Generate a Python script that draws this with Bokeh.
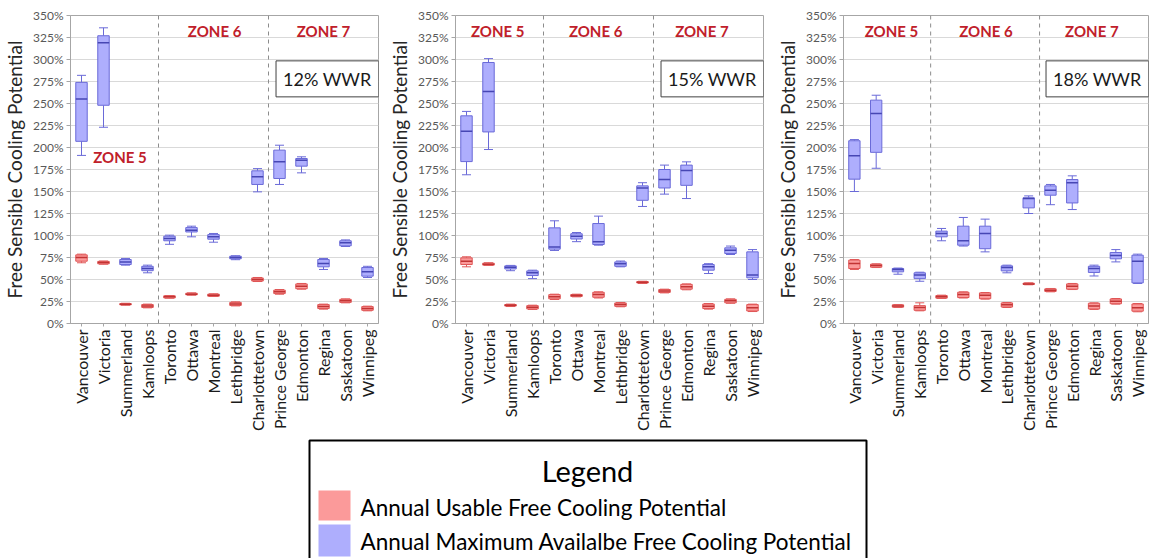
import math
from bokeh.plotting import figure
from bokeh.layouts import column, row
from bokeh.models import (FactorRange, Range1d, FixedTicker, Span, Label,
                          Whisker, TeeHead, ColumnDataSource)
from bokeh.core.properties import value
from bokeh.embed import file_html
from bokeh.resources import INLINE

# ---------------------------------------------------------------- data
cities = ["Vancouver", "Victoria", "Summerland", "Kamloops",
          "Toronto", "Ottawa", "Montreal", "Lethbridge", "Charlottetown",
          "Prince George", "Edmonton", "Regina", "Saskatoon", "Winnipeg"]
zone_labels = ["ZONE 5", "ZONE 6", "ZONE 7"]
zone_breaks = [4, 9]          # number of cities before each dashed divider
y_ticks = list(range(0, 351, 25))
wwr_labels = ["12% WWR", "15% WWR", "18% WWR"]

# Annual maximum available free cooling potential (%), 12 % WWR
max12_low = [191, 223, 66.3, 57.6, 90.0, 98.5, 92.4, 72.5, 149.6, 158.0, 171.2, 61.4, 87.5, 52.3]
max12_q1 = [207, 248, 67.0, 60.0, 94.0, 104.0, 95.8, 73.5, 158.0, 164.8, 178.8, 64.4, 88.3, 53.8]
max12_med = [255, 319, 70.0, 62.5, 96.6, 106.0, 98.5, 75.0, 166.7, 183.7, 185.6, 68.2, 91.7, 58.7]
max12_q3 = [274, 327, 72.7, 65.0, 99.2, 109.0, 101.0, 76.5, 173.5, 197.0, 187.5, 72.7, 94.0, 63.6]
max12_high = [282, 336, 73.9, 66.3, 100.4, 110.6, 102.3, 77.0, 176.0, 202.6, 189.4, 73.9, 95.0, 65.0]

# Annual usable free cooling potential (%), 12 % WWR
use12_low = [69.0, 67.4, 20.8, 17.8, 28.8, 32.2, 30.7, 20.0, 47.7, 33.3, 39.0, 16.3, 23.5, 14.4]
use12_q1 = [70.8, 67.8, 21.2, 18.2, 29.0, 32.6, 31.0, 20.5, 48.2, 34.0, 39.5, 17.0, 24.0, 15.0]
use12_med = [75.0, 69.3, 22.0, 20.0, 30.3, 33.3, 32.2, 22.3, 50.0, 36.0, 42.4, 19.3, 25.8, 17.0]
use12_q3 = [78.0, 70.6, 22.6, 21.6, 31.5, 34.4, 33.4, 24.0, 51.8, 38.0, 45.0, 21.5, 27.5, 19.2]
use12_high = [78.8, 71.0, 23.0, 22.0, 31.8, 34.8, 33.7, 24.6, 52.3, 38.6, 45.5, 22.0, 28.0, 19.7]

# Annual maximum available free cooling potential (%), 15 % WWR
max15_low = [169, 197.7, 60.0, 51.0, 83.0, 93.0, 89.0, 64.4, 133.0, 147.0, 142.0, 56.8, 78.4, 50.0]
max15_q1 = [184, 217.7, 62.0, 54.5, 84.5, 96.0, 89.8, 65.0, 140.0, 154.0, 157.0, 60.6, 79.5, 51.9]
max15_med = [218.5, 263.5, 64.0, 57.6, 87.0, 99.2, 92.8, 67.8, 154.0, 163.6, 174.0, 64.4, 83.3, 55.0]
max15_q3 = [236, 296.6, 65.5, 59.8, 108.7, 102.0, 113.6, 70.0, 156.4, 175.0, 180.0, 67.0, 86.0, 81.4]
max15_high = [241, 301, 66.0, 60.6, 116.7, 103.4, 122.0, 71.0, 160.0, 180.0, 183.7, 68.0, 88.0, 84.0]

# Annual usable free cooling potential (%), 15 % WWR
use15_low = [64.4, 66.0, 19.3, 16.0, 27.3, 30.3, 29.0, 19.0, 45.5, 34.8, 38.3, 16.3, 23.0, 13.6]
use15_q1 = [67.0, 66.3, 19.8, 16.5, 28.0, 30.8, 29.8, 19.5, 46.0, 35.3, 39.0, 17.0, 23.5, 14.2]
use15_med = [70.8, 67.4, 20.8, 18.6, 30.3, 31.8, 33.0, 21.6, 47.0, 37.0, 41.7, 19.7, 25.8, 17.8]
use15_q3 = [74.6, 68.6, 21.6, 20.3, 32.8, 32.9, 35.5, 23.4, 47.6, 38.6, 44.5, 22.2, 27.5, 21.5]
use15_high = [75.8, 69.0, 22.0, 20.8, 33.3, 33.3, 36.0, 23.9, 48.0, 39.0, 45.0, 22.7, 28.0, 22.0]

# Annual maximum available free cooling potential (%), 18 % WWR
max18_low = [150, 176.4, 56.0, 48.0, 94.0, 88.0, 81.4, 57.6, 125.0, 135.0, 129.5, 54.0, 70.0, 45.5]
max18_q1 = [164, 194.5, 58.7, 51.0, 98.5, 89.0, 85.0, 59.8, 131.4, 145.8, 137.0, 58.0, 73.5, 46.2]
max18_med = [190.7, 238.7, 61.4, 55.0, 102.3, 94.0, 102.3, 63.6, 142.0, 151.5, 160.0, 62.5, 77.3, 70.8]
max18_q3 = [207.7, 253.8, 62.5, 57.6, 105.0, 110.6, 110.6, 65.5, 142.8, 156.4, 163.6, 65.0, 80.7, 77.6]
max18_high = [209, 259.4, 63.0, 58.3, 108.0, 120.5, 118.6, 66.3, 145.0, 158.0, 167.8, 66.3, 84.0, 78.8]

# Annual usable free cooling potential (%), 18 % WWR
use18_low = [61.4, 63.6, 18.2, 14.4, 28.4, 29.0, 27.7, 18.2, 44.0, 36.0, 38.6, 16.0, 22.0, 13.3]
use18_q1 = [62.5, 64.0, 18.6, 15.0, 28.8, 29.5, 28.2, 18.7, 44.4, 36.4, 39.0, 16.5, 22.5, 14.0]
use18_med = [68.2, 66.0, 20.0, 18.2, 30.3, 33.0, 32.2, 21.2, 45.0, 37.9, 42.4, 20.0, 25.4, 17.8]
use18_q3 = [72.0, 67.4, 21.2, 20.3, 31.8, 35.5, 34.8, 23.4, 45.8, 39.4, 45.0, 23.0, 27.9, 22.2]
use18_high = [72.7, 67.8, 21.6, 23.5, 32.2, 36.0, 35.2, 23.9, 46.2, 39.8, 45.5, 23.5, 28.4, 22.7]

# ---------------------------------------------------------------- style
FONT = "Lato"
BLUE_FILL, BLUE_LINE, BLUE_MED = "#aeaefd", "#6a6ad8", "#4646b4"
RED_FILL, RED_LINE, RED_MED = "#fb9a9a", "#e05656", "#c23434"
ZONE_RED = "#c0202a"
GRID = "#d9d9d9"
AXIS = "#a6a6a6"
BOX_W = 0.52


def add_boxes(p, low, q1, med, q3, high, fill, line, med_color):
    src = ColumnDataSource(dict(x=cities, low=low, q1=q1, med=med, q3=q3, high=high))
    lower = Whisker(source=src, base="x", lower="low", upper="q1",
                    line_color=line, line_width=1,
                    lower_head=TeeHead(size=9, line_color=line, line_width=1),
                    upper_head=None)
    upper = Whisker(source=src, base="x", lower="q3", upper="high",
                    line_color=line, line_width=1,
                    upper_head=TeeHead(size=9, line_color=line, line_width=1),
                    lower_head=None)
    p.add_layout(lower)
    p.add_layout(upper)
    p.vbar(x="x", bottom="q1", top="q3", width=BOX_W, source=src,
           fill_color=fill, line_color=line, line_width=1)
    p.rect(x="x", y="med", width=BOX_W, height=1.5, height_units="screen",
           source=src, fill_color=med_color, line_color=None)


def make_panel(width, border_left, border_right, wwr, zone_x, zone5_y, maxes, uses):
    p = figure(width=width, height=435, x_range=FactorRange(*cities),
               y_range=Range1d(0, 350), output_backend="svg",
               toolbar_location=None, min_border_left=border_left,
               min_border_right=border_right, min_border_top=15,
               min_border_bottom=112, background_fill_color="white",
               border_fill_color="white", outline_line_color=AXIS)
    p.xgrid.grid_line_color = None
    p.ygrid.grid_line_color = GRID
    p.yaxis.ticker = FixedTicker(ticks=y_ticks)
    p.yaxis.major_label_overrides = {t: f"{t}%" for t in y_ticks}
    p.yaxis.axis_label = "Free Sensible Cooling Potential"
    p.yaxis.axis_label_text_font = FONT
    p.yaxis.axis_label_text_font_style = "normal"
    p.yaxis.axis_label_text_font_size = "19px"
    p.yaxis.axis_label_text_color = "#262626"
    p.yaxis.axis_label_standoff = 4
    p.yaxis.major_label_text_font = FONT
    p.yaxis.major_label_text_font_size = "12px"
    p.yaxis.major_label_text_color = "#595959"
    p.yaxis.major_label_standoff = 3
    p.yaxis.minor_tick_line_color = None
    p.yaxis.major_tick_out = 4
    p.yaxis.major_tick_in = 0
    for ax in (p.xaxis[0], p.yaxis[0]):
        ax.axis_line_color = AXIS
        ax.major_tick_line_color = AXIS
    p.xaxis.major_label_orientation = math.pi / 2
    p.xaxis.major_label_text_font = FONT
    p.xaxis.major_label_text_font_size = "16px"
    p.xaxis.major_label_text_color = "#1a1a1a"
    p.xaxis.major_label_standoff = 3
    p.xaxis.major_tick_out = 3
    p.xaxis.major_tick_in = 0

    for b in zone_breaks:
        p.add_layout(Span(location=b, dimension="height", line_color="#8c8c8c",
                          line_dash="4 4", line_width=1))

    add_boxes(p, *uses, RED_FILL, RED_LINE, RED_MED)
    add_boxes(p, *maxes, BLUE_FILL, BLUE_LINE, BLUE_MED)

    for i, (name, zx) in enumerate(zip(zone_labels, zone_x)):
        zy = zone5_y if (i == 0 and zone5_y is not None) else 332
        p.add_layout(Label(x=zx, y=zy, text=name, text_align="center",
                           text_baseline="middle", text_font=FONT,
                           text_font_style="bold", text_font_size="15px",
                           text_color=ZONE_RED))

    p.add_layout(Label(x=14, y=278, text=wwr, text_align="right",
                       text_baseline="middle", text_font=FONT,
                       text_font_size="18px", text_color="#1a1a1a",
                       border_line_color="#404040", border_line_width=1,
                       background_fill_color="white", padding=7))
    return p


p1 = make_panel(385, 70, 7, wwr_labels[0], [2.25, 6.55, 11.5], 189,
                (max12_low, max12_q1, max12_med, max12_q3, max12_high),
                (use12_low, use12_q1, use12_med, use12_q3, use12_high))
p2 = make_panel(385, 68, 7, wwr_labels[1], [1.92, 6.37, 11.2], 332,
                (max15_low, max15_q1, max15_med, max15_q3, max15_high),
                (use15_low, use15_q1, use15_med, use15_q3, use15_high))
p3 = make_panel(381, 73, 3, wwr_labels[2], [2.2, 6.54, 11.4], 332,
                (max18_low, max18_q1, max18_med, max18_q3, max18_high),
                (use18_low, use18_q1, use18_med, use18_q3, use18_high))

# ---------------------------------------------------------------- legend
leg = figure(width=1151, height=123, x_range=Range1d(0, 1151), y_range=Range1d(123, 0),
             output_backend="svg", toolbar_location=None, min_border=0,
             outline_line_color=None, background_fill_color="white",
             border_fill_color="white")
leg.axis.visible = False
leg.grid.visible = False
leg.quad(left=[309], right=[866], top=[5], bottom=[140], fill_color=None,
         line_color="#000000", line_width=2)
leg.quad(left=[318, 318], right=[350, 350], top=[55, 89], bottom=[85, 121],
         fill_color=[RED_FILL, BLUE_FILL], line_color=None)
leg.text(x=[587], y=[35], text=["Legend"], text_align="center",
         text_baseline="middle", text_font=value(FONT), text_font_size="29px",
         text_color="#000000")
leg.text(x=[360, 360], y=[72, 106],
         text=["Annual Usable Free Cooling Potential",
               "Annual Maximum Availalbe Free Cooling Potential"],
         text_align="left", text_baseline="middle", text_font=value(FONT),
         text_font_size="22.5px", text_color="#000000")

layout = column(row(p1, p2, p3), leg)
open("out.html", "w").write(file_html(layout, INLINE))
